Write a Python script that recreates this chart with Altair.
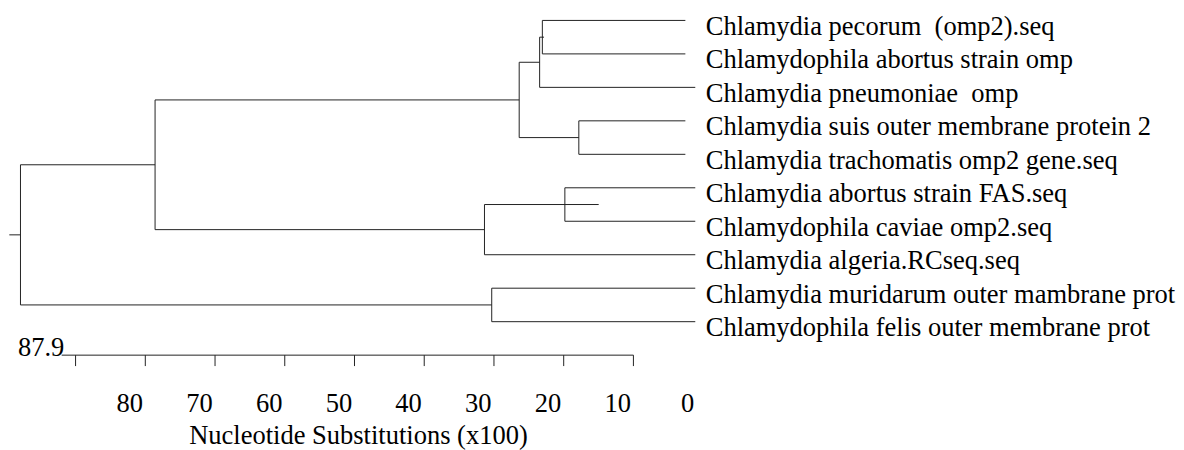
import altair as alt
import pandas as pd

# ---- data ----
leaves = [
    "Chlamydia pecorum \u00a0(omp2).seq",
    "Chlamydophila abortus strain omp",
    "Chlamydia pneumoniae \u00a0omp",
    "Chlamydia suis outer membrane protein 2",
    "Chlamydia trachomatis omp2 gene.seq",
    "Chlamydia abortus strain FAS.seq",
    "Chlamydophila caviae omp2.seq",
    "Chlamydia algeria.RCseq.seq",
    "Chlamydia muridarum outer mambrane prot",
    "Chlamydophila felis outer membrane prot",
]
# where each leaf branch is drawn to (distance units, past 0 as in the reference)
leaf_end = [-7.45, -7.45, -8.87, -7.45, -7.45, -8.87, -8.87, -8.87, -8.87, -8.87]

node_names = ["n1", "n2", "n3", "n4", "n5", "n6", "n7", "n8", "root"]
node_height = [13.06, 13.45, 7.83, 16.38, 9.83, 21.36, 68.6, 20.32, 87.9]
node_children = [
    ["L0", "L1"], ["n1", "L2"], ["L3", "L4"], ["n2", "n3"],
    ["L5", "L6"], ["n5", "L7"], ["n4", "n6"], ["L8", "L9"], ["n7", "n8"],
]
branch_end = {"n1": 12.82, "n5": 4.98}   # branches drawn beyond their node
root_stub = 89.5

scale_ticks = [80, 70, 60, 50, 40, 30, 20, 10, 0]
scale_max = 87.9
axis_title = "Nucleotide Substitutions (x100)"

# ---- dendrogram layout ----
height = {}
ypos = {}
for i in range(len(leaves)):
    ypos[f"L{i}"] = float(i)
    height[f"L{i}"] = leaf_end[i]

segs = []
for name, h, ch in zip(node_names, node_height, node_children):
    height[name] = h
    ys_ = [ypos[c] for c in ch]
    ypos[name] = sum(ys_) / len(ys_)
    segs.append({"x": h, "x2": h, "y": min(ys_), "y2": max(ys_)})
    for c in ch:
        end = branch_end.get(c, height[c])
        segs.append({"x": h, "x2": end, "y": ypos[c], "y2": ypos[c]})
segs.append({"x": root_stub, "x2": node_height[-1], "y": ypos["root"], "y2": ypos["root"]})
seg_df = pd.DataFrame(segs)

label_df = pd.DataFrame({"name": leaves, "y": list(range(len(leaves))),
                         "x": [min(leaf_end)] * len(leaves)})

scale_row = float(len(leaves))
tick_df = pd.DataFrame({"d": scale_ticks, "y": [scale_row] * len(scale_ticks),
                        "lab": [str(t) for t in scale_ticks]})
bar_df = pd.DataFrame({"x": [scale_max], "x2": [min(scale_ticks)], "y": [scale_row],
                       "lab": [str(scale_max)]})
title_df = pd.DataFrame({"x": [(max(scale_ticks) + min(scale_ticks)) / 2],
                         "y": [scale_row], "t": [axis_title]})

W, H = 1176, 442
xs = alt.Scale(domain=[-77.81, 89.69], reverse=True, zero=False, nice=False)
ys = alt.Scale(domain=[-0.3264, 12.789], reverse=True, zero=False, nice=False)
X = lambda f: alt.X(f, type="quantitative", scale=xs, axis=None)
Y = lambda f: alt.Y(f, type="quantitative", scale=ys, axis=None)

FONT = "Liberation Serif"
FS = 26.7
LINE = "#222222"

tree = alt.Chart(seg_df).mark_rule(stroke=LINE, strokeWidth=1).encode(
    x=X("x"), x2="x2", y=Y("y"), y2="y2")

labels = alt.Chart(label_df).mark_text(
    align="left", baseline="alphabetic", dx=10.5, dy=14.5,
    font=FONT, fontSize=FS, color="black").encode(x=X("x"), y=Y("y"), text="name")

bar = alt.Chart(bar_df).mark_rule(stroke=LINE, strokeWidth=1, xOffset=41.5).encode(
    x=X("x"), x2="x2", y=Y("y"))

ticks = alt.Chart(tick_df).mark_rule(stroke=LINE, strokeWidth=1, y2Offset=11).encode(
    x=X("d"), y=Y("y"), y2="y")

tick_labels = alt.Chart(tick_df).mark_text(
    align="center", baseline="alphabetic", dx=54.5, dy=57.3,
    font=FONT, fontSize=FS, color="black").encode(x=X("d"), y=Y("y"), text="lab")

max_label = alt.Chart(bar_df).mark_text(
    align="left", baseline="alphabetic", dx=-2.5, dy=1,
    font=FONT, fontSize=FS, color="black").encode(x=X("x"), y=Y("y"), text="lab")

title = alt.Chart(title_df).mark_text(
    align="center", baseline="alphabetic", dx=4, dy=89,
    font=FONT, fontSize=FS, color="black").encode(x=X("x"), y=Y("y"), text="t")

chart = alt.layer(tree, labels, bar, ticks, tick_labels, max_label, title).properties(
    width=W, height=H, padding=0, autosize=alt.AutoSizeParams(type="none"),
    background="white",
).configure_view(stroke=None)

chart.save("out.html", embed_options={"renderer": "svg", "actions": False})
